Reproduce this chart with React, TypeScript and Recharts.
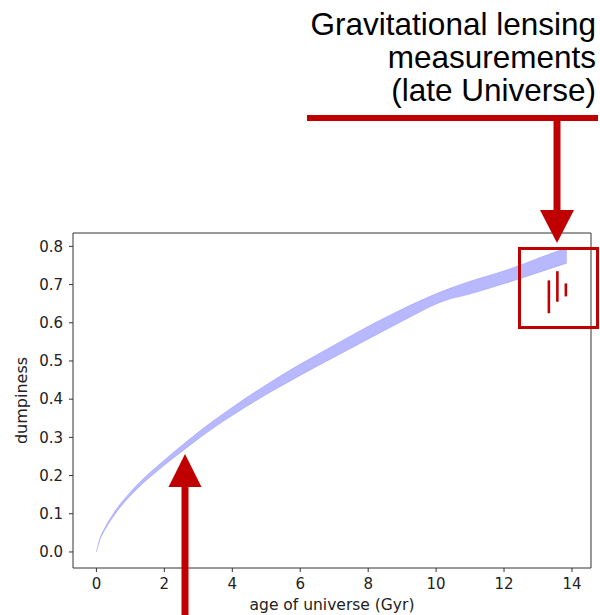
import {
  ComposedChart,
  Area,
  Scatter,
  ErrorBar,
  XAxis,
  YAxis,
  ReferenceLine,
  Label,
} from "recharts";

// clumpiness band (Gyr)
const AGE_GYR = [0, 0.1, 0.25, 0.5, 1, 1.5, 2, 2.5, 3, 4, 5, 6, 7, 8, 9, 10.3, 11, 12, 13, 13.85];
const BAND_LOW = [0, 0.031, 0.058, 0.093, 0.147, 0.19, 0.227, 0.262, 0.296, 0.357, 0.412, 0.462, 0.51, 0.557, 0.604, 0.659, 0.675, 0.702, 0.731, 0.756];
const BAND_HIGH = [0, 0.035, 0.064, 0.101, 0.157, 0.202, 0.241, 0.278, 0.314, 0.379, 0.438, 0.492, 0.542, 0.591, 0.636, 0.687, 0.709, 0.736, 0.769, 0.797];

// lensing measurements
const LENS_AGE = [13.32, 13.57, 13.82];
const LENS_VALUE = [0.668, 0.695, 0.686];
const LENS_ERR = [0.043, 0.04, 0.017];

const X_TICKS = [0, 2, 4, 6, 8, 10, 12, 14];
const Y_TICKS = [0, 0.1, 0.2, 0.3, 0.4, 0.5, 0.6, 0.7, 0.8];
const X_MIN = -0.69;
const X_MAX = 14.56;
const Y_MIN = -0.042;
const Y_MAX = 0.835;

const RED = "#c00000";
const AXIS = "#333";
const FONT = "DejaVu Sans, sans-serif";

const bandData = AGE_GYR.map((age, i) => ({ age, band: [BAND_LOW[i], BAND_HIGH[i]] }));
const lensData = LENS_AGE.map((age, i) => ({ age, value: LENS_VALUE[i], err: LENS_ERR[i] }));

const tickStyle = { fontSize: 15, fill: "#222", fontFamily: FONT };

const Annotations = () => (
  <svg
    width={600}
    height={615}
    style={{ position: "absolute", left: 0, top: 0, pointerEvents: "none" }}
  >
    <text fontFamily="Liberation Sans, Arial, sans-serif" fontSize={31.5} fill="#000" textAnchor="end">
      <tspan x={596} y={35}>Gravitational lensing</tspan>
      <tspan x={596} y={68}>measurements</tspan>
      <tspan x={596} y={101}>(late Universe)</tspan>
    </text>
    <line x1={307} x2={598} y1={118} y2={118} stroke={RED} strokeWidth={6} />
    <line x1={557} x2={557} y1={118} y2={212} stroke={RED} strokeWidth={7} />
    <polygon points="540,210 574,210 557,243" fill={RED} />
    <rect x={519.5} y={248.5} width={78} height={79} fill="none" stroke={RED} strokeWidth={3} />
    <line x1={185} x2={185} y1={485} y2={615} stroke={RED} strokeWidth={7} />
    <polygon points="168.5,487 201.5,487 185,454" fill={RED} />
  </svg>
);

const App = () => {
  return (
    <div
      style={{
        position: "absolute",
        left: 0,
        top: 0,
        width: 600,
        height: 615,
        background: "#fff",
        fontFamily: FONT,
      }}
    >
      <ComposedChart
        width={600}
        height={615}
        data={bandData}
        margin={{ top: 233, right: 9, bottom: 0, left: 0 }}
      >
        <XAxis
          type="number"
          dataKey="age"
          domain={[X_MIN, X_MAX]}
          ticks={X_TICKS}
          allowDataOverflow
          height={47}
          tick={tickStyle}
          tickSize={4}
          tickMargin={6}
          stroke={AXIS}
        >
          <Label
            value="age of universe (Gyr)"
            position="insideBottom"
            offset={5}
            style={{ fontSize: 15.5, fill: "#222", fontFamily: FONT }}
          />
        </XAxis>
        <YAxis
          type="number"
          domain={[Y_MIN, Y_MAX]}
          ticks={Y_TICKS}
          allowDataOverflow
          width={73}
          tick={tickStyle}
          tickSize={4}
          tickMargin={6}
          tickFormatter={(v: number) => v.toFixed(1)}
          stroke={AXIS}
        >
          <Label
            value="dumpiness"
            angle={-90}
            position="insideLeft"
            offset={21}
            style={{ fontSize: 16, fill: "#222", fontFamily: FONT, textAnchor: "middle" }}
          />
        </YAxis>
        <ReferenceLine y={Y_MAX} stroke={AXIS} />
        <ReferenceLine x={X_MAX} stroke={AXIS} />
        <Area
          type="monotone"
          dataKey="band"
          fill="#0000ff"
          fillOpacity={0.28}
          stroke="#0000ff"
          strokeOpacity={0.12}
          strokeWidth={1}
          isAnimationActive={false}
          dot={false}
          activeDot={false}
        />
        <Scatter
          data={lensData}
          dataKey="value"
          shape={() => <g />}
          isAnimationActive={false}
        >
          <ErrorBar
            dataKey="err"
            direction="y"
            width={0}
            stroke={RED}
            strokeWidth={2.6}
            isAnimationActive={false}
          />
        </Scatter>
      </ComposedChart>
      <Annotations />
    </div>
  );
};

export default App;
